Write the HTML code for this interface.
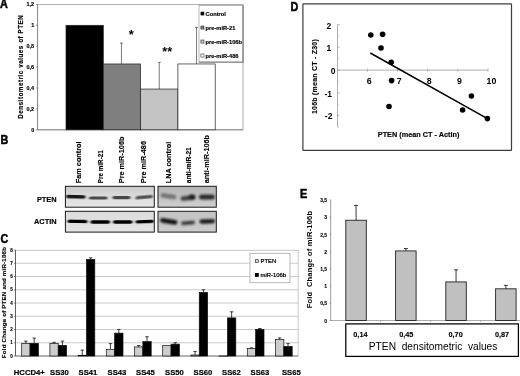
<!DOCTYPE html>
<html><head><meta charset="utf-8"><title>Figure</title>
<style>
html,body{margin:0;padding:0;background:#fff;}
body{width:520px;height:376px;overflow:hidden;font-family:"Liberation Sans",sans-serif;}
svg{display:block;filter:blur(0.35px);}
svg text{font-family:"Liberation Sans",sans-serif;}
</style></head><body>
<svg width="520" height="376" viewBox="0 0 520 376">
<rect x="0" y="0" width="520" height="376" fill="#ffffff"/>
<text transform="translate(0.1 8.3) scale(1 1.1)" font-size="10.8" font-weight="bold" fill="#000" stroke="#000" stroke-width="0.45">A</text>
<rect x="37.6" y="4.4" width="205.4" height="125.4" fill="#fff" stroke="#9a9a9a" stroke-width="0.8" />
<line x1="37.6" y1="4.4" x2="37.6" y2="129.8" stroke="#8c8c8c" stroke-width="1.0" />
<line x1="37.6" y1="129.8" x2="243" y2="129.8" stroke="#8c8c8c" stroke-width="1.0" />
<line x1="36.0" y1="4.40000000000002" x2="37.6" y2="4.40000000000002" stroke="#666" stroke-width="0.7" />
<text x="34.2" y="6.40000000000002" font-size="5.5" font-weight="bold" text-anchor="end" fill="#000" stroke="#000" stroke-width="0.15">1,2</text>
<line x1="36.0" y1="25.30000000000001" x2="37.6" y2="25.30000000000001" stroke="#666" stroke-width="0.7" />
<text x="34.2" y="27.30000000000001" font-size="5.5" font-weight="bold" text-anchor="end" fill="#000" stroke="#000" stroke-width="0.15">1</text>
<line x1="36.0" y1="46.2" x2="37.6" y2="46.2" stroke="#666" stroke-width="0.7" />
<text x="34.2" y="48.2" font-size="5.5" font-weight="bold" text-anchor="end" fill="#000" stroke="#000" stroke-width="0.15">0,8</text>
<line x1="36.0" y1="67.10000000000002" x2="37.6" y2="67.10000000000002" stroke="#666" stroke-width="0.7" />
<text x="34.2" y="69.10000000000002" font-size="5.5" font-weight="bold" text-anchor="end" fill="#000" stroke="#000" stroke-width="0.15">0,6</text>
<line x1="36.0" y1="88.0" x2="37.6" y2="88.0" stroke="#666" stroke-width="0.7" />
<text x="34.2" y="90.0" font-size="5.5" font-weight="bold" text-anchor="end" fill="#000" stroke="#000" stroke-width="0.15">0,4</text>
<line x1="36.0" y1="108.9" x2="37.6" y2="108.9" stroke="#666" stroke-width="0.7" />
<text x="34.2" y="110.9" font-size="5.5" font-weight="bold" text-anchor="end" fill="#000" stroke="#000" stroke-width="0.15">0,2</text>
<line x1="36.0" y1="129.8" x2="37.6" y2="129.8" stroke="#666" stroke-width="0.7" />
<text x="34.2" y="131.8" font-size="5.5" font-weight="bold" text-anchor="end" fill="#000" stroke="#000" stroke-width="0.15">0</text>
<text x="23.4" y="66.8" font-size="6.3" font-weight="bold" text-anchor="middle" fill="#000" transform="rotate(-90 23.4 66.8)" letter-spacing="0.52" stroke="#000" stroke-width="0.15">Densitometric values of PTEN</text>
<line x1="121.44999999999999" y1="43.06500000000001" x2="121.44999999999999" y2="63.96500000000002" stroke="#444" stroke-width="0.7" />
<line x1="119.94999999999999" y1="43.06500000000001" x2="122.94999999999999" y2="43.06500000000001" stroke="#444" stroke-width="0.7" />
<line x1="159.25" y1="62.39750000000001" x2="159.25" y2="89.04500000000002" stroke="#444" stroke-width="0.7" />
<line x1="157.75" y1="62.39750000000001" x2="160.75" y2="62.39750000000001" stroke="#444" stroke-width="0.7" />
<line x1="196.55" y1="27.390000000000015" x2="196.55" y2="63.96500000000002" stroke="#444" stroke-width="0.7" />
<line x1="195.05" y1="27.390000000000015" x2="198.05" y2="27.390000000000015" stroke="#444" stroke-width="0.7" />
<rect x="66" y="25.30000000000001" width="37.3" height="104.5" fill="#000" stroke="#222" stroke-width="0.7" />
<rect x="103.3" y="63.96500000000002" width="37.3" height="65.835" fill="#7f7f7f" stroke="#222" stroke-width="0.7" />
<rect x="140.6" y="89.04500000000002" width="37.3" height="40.755" fill="#c3c3c3" stroke="#222" stroke-width="0.7" />
<rect x="177.9" y="63.96500000000002" width="37.3" height="65.835" fill="#fff" stroke="#222" stroke-width="0.7" />
<text x="131.4" y="39.1" font-size="13" font-weight="bold" text-anchor="middle" fill="#000" >*</text>
<text x="167.2" y="55.5" font-size="12.5" font-weight="bold" text-anchor="middle" fill="#000" >**</text>
<rect x="199" y="5.4" width="44" height="56.8" fill="#fff" stroke="#a8a8a8" stroke-width="0.8" />
<line x1="243" y1="5.4" x2="243" y2="62.6" stroke="#8a8a8a" stroke-width="1.4" />
<line x1="199" y1="62.2" x2="243.6" y2="62.2" stroke="#8a8a8a" stroke-width="1.2" />
<rect x="200.9" y="12.0" width="3.1" height="3.1" fill="#000" stroke="#222" stroke-width="0.55" />
<text x="205.6" y="15.649999999999999" font-size="5.7" font-weight="bold" text-anchor="start" fill="#000" stroke="#000" stroke-width="0.16">Control</text>
<rect x="200.9" y="26.0" width="3.1" height="3.1" fill="#7f7f7f" stroke="#222" stroke-width="0.55" />
<text x="205.6" y="29.65" font-size="5.7" font-weight="bold" text-anchor="start" fill="#000" stroke="#000" stroke-width="0.16">pre-miR-21</text>
<rect x="200.9" y="40.0" width="3.1" height="3.1" fill="#c3c3c3" stroke="#222" stroke-width="0.55" />
<text x="205.6" y="43.650000000000006" font-size="5.7" font-weight="bold" text-anchor="start" fill="#000" stroke="#000" stroke-width="0.16">pre-miR-106b</text>
<rect x="200.9" y="54.0" width="3.1" height="3.1" fill="#fff" stroke="#222" stroke-width="0.55" />
<text x="205.6" y="57.650000000000006" font-size="5.7" font-weight="bold" text-anchor="start" fill="#000" stroke="#000" stroke-width="0.16">pre-miR-486</text>
<text transform="translate(0.4 143.6) scale(1 1.1)" font-size="10.8" font-weight="bold" fill="#000" stroke="#000" stroke-width="0.45">B</text>
<text x="80.8" y="183.2" font-size="7.3" font-weight="bold" text-anchor="start" fill="#000" transform="rotate(-90 80.8 183.2)" stroke="#000" stroke-width="0.15">Fam control</text>
<text x="102.9" y="183.2" font-size="7.3" font-weight="bold" text-anchor="start" fill="#000" transform="rotate(-90 102.9 183.2)" stroke="#000" stroke-width="0.15" textLength="33.0" lengthAdjust="spacingAndGlyphs">Pre miR-21</text>
<text x="123.9" y="183.2" font-size="7.3" font-weight="bold" text-anchor="start" fill="#000" transform="rotate(-90 123.9 183.2)" stroke="#000" stroke-width="0.15">Pre miR-106b</text>
<text x="146" y="183.2" font-size="7.3" font-weight="bold" text-anchor="start" fill="#000" transform="rotate(-90 146 183.2)" stroke="#000" stroke-width="0.15">Pre miR-486</text>
<text x="171" y="183.2" font-size="7.3" font-weight="bold" text-anchor="start" fill="#000" transform="rotate(-90 171 183.2)" stroke="#000" stroke-width="0.15">LNA control</text>
<text x="190.9" y="183.2" font-size="7.3" font-weight="bold" text-anchor="start" fill="#000" transform="rotate(-90 190.9 183.2)" stroke="#000" stroke-width="0.15" textLength="36.0" lengthAdjust="spacingAndGlyphs">anti-miR-21</text>
<text x="209" y="183.2" font-size="7.3" font-weight="bold" text-anchor="start" fill="#000" transform="rotate(-90 209 183.2)" stroke="#000" stroke-width="0.15">anti-miR-106b</text>
<text x="56.6" y="201.8" font-size="7.4" font-weight="bold" text-anchor="end" fill="#000" stroke="#000" stroke-width="0.15">PTEN</text>
<text x="56.6" y="224.0" font-size="7.4" font-weight="bold" text-anchor="end" fill="#000" stroke="#000" stroke-width="0.15">ACTIN</text>
<defs><filter id="bl" x="-20%" y="-100%" width="140%" height="300%"><feGaussianBlur stdDeviation="1.0 0.75"/></filter><filter id="bl2" x="-20%" y="-100%" width="140%" height="300%"><feGaussianBlur stdDeviation="1.3 1.1"/></filter><linearGradient id="gP1" x1="0" y1="0" x2="0" y2="1"><stop offset="0" stop-color="#c9c9c9"/><stop offset="0.45" stop-color="#dadada"/><stop offset="1" stop-color="#e6e6e6"/></linearGradient><linearGradient id="gP2" x1="0" y1="0" x2="0" y2="1"><stop offset="0" stop-color="#b4b4b4"/><stop offset="0.5" stop-color="#c2c2c2"/><stop offset="1" stop-color="#cfcfcf"/></linearGradient><linearGradient id="gA1" x1="0" y1="0" x2="0" y2="1"><stop offset="0" stop-color="#dcdcdc"/><stop offset="1" stop-color="#e4e4e4"/></linearGradient><linearGradient id="gA2" x1="0" y1="0" x2="0" y2="1"><stop offset="0" stop-color="#c2c2c2"/><stop offset="1" stop-color="#cccccc"/></linearGradient><clipPath id="cP1"><rect x="65.4" y="186.3" width="88.9" height="20.9"/></clipPath><clipPath id="cP2"><rect x="158" y="186.3" width="58.3" height="20.9"/></clipPath><clipPath id="cA1"><rect x="65.4" y="211.3" width="88.9" height="20.8"/></clipPath><clipPath id="cA2"><rect x="158" y="211.3" width="58.3" height="20.8"/></clipPath></defs>
<rect x="65.4" y="186.3" width="88.9" height="20.9" fill="url(#gP1)" stroke="none" stroke-width="1" />
<rect x="158" y="186.3" width="58.3" height="20.9" fill="url(#gP2)" stroke="none" stroke-width="1" />
<rect x="65.4" y="211.3" width="88.9" height="20.8" fill="url(#gA1)" stroke="none" stroke-width="1" />
<rect x="158" y="211.3" width="58.3" height="20.8" fill="url(#gA2)" stroke="none" stroke-width="1" />
<g clip-path="url(#cP1)"><rect x="66.0" y="195.10000000000002" width="19.5" height="3.4" rx="1.7" fill="#111" opacity="0.95" filter="url(#bl)" transform="rotate(1.5 75.75 196.8)"/></g>
<g clip-path="url(#cP1)"><rect x="89.0" y="196.4" width="18.5" height="3.2" rx="1.6" fill="#222" opacity="0.78" filter="url(#bl)" transform="rotate(0 98.25 198.0)"/></g>
<g clip-path="url(#cP1)"><rect x="112.5" y="196.0" width="18.0" height="3.2" rx="1.6" fill="#222" opacity="0.8" filter="url(#bl)" transform="rotate(0 121.5 197.6)"/></g>
<g clip-path="url(#cP1)"><rect x="135.5" y="195.6" width="17.30000000000001" height="3.2" rx="1.6" fill="#222" opacity="0.75" filter="url(#bl)" transform="rotate(-5 144.15 197.2)"/></g>
<g clip-path="url(#cP2)"><rect x="160.5" y="193.89999999999998" width="16.0" height="4.6" rx="2.3" fill="#333" opacity="0.55" filter="url(#bl2)" transform="rotate(8 168.5 196.2)"/></g>
<g clip-path="url(#cP2)"><rect x="180.5" y="195.7" width="15.0" height="4.6" rx="2.3" fill="#1a1a1a" opacity="0.8" filter="url(#bl2)" transform="rotate(-6 188.0 198.0)"/></g>
<g clip-path="url(#cP2)"><rect x="189.0" y="194.60000000000002" width="6.0" height="4.4" rx="2.2" fill="#111" opacity="0.75" filter="url(#bl2)" transform="rotate(0 192.0 196.8)"/></g>
<g clip-path="url(#cP2)"><rect x="199.0" y="194.5" width="15.800000000000011" height="5.0" rx="2.5" fill="#111" opacity="0.85" filter="url(#bl2)" transform="rotate(0 206.9 197.0)"/></g>
<g clip-path="url(#cA1)"><rect x="67.5" y="219.75" width="20.0" height="3.3" rx="1.65" fill="#000" opacity="1" filter="url(#bl)" transform="rotate(1 77.5 221.4)"/></g>
<g clip-path="url(#cA1)"><rect x="90.5" y="220.35" width="19.5" height="3.3" rx="1.65" fill="#000" opacity="1" filter="url(#bl)" transform="rotate(0 100.25 222.0)"/></g>
<g clip-path="url(#cA1)"><rect x="113.0" y="220.35" width="19.5" height="3.3" rx="1.65" fill="#000" opacity="1" filter="url(#bl)" transform="rotate(0 122.75 222.0)"/></g>
<g clip-path="url(#cA1)"><rect x="135.5" y="219.95" width="18.5" height="3.3" rx="1.65" fill="#000" opacity="1" filter="url(#bl)" transform="rotate(-2 144.75 221.6)"/></g>
<g clip-path="url(#cA2)"><rect x="160.0" y="218.9" width="17.5" height="4.8" rx="2.4" fill="#0a0a0a" opacity="0.97" filter="url(#bl2)" transform="rotate(9 168.75 221.3)"/></g>
<g clip-path="url(#cA2)"><rect x="181.0" y="220.9" width="14.0" height="3.8" rx="1.9" fill="#1a1a1a" opacity="0.82" filter="url(#bl2)" transform="rotate(-5 188.0 222.8)"/></g>
<g clip-path="url(#cA2)"><rect x="199.5" y="219.20000000000002" width="15.5" height="4.2" rx="2.1" fill="#0a0a0a" opacity="0.95" filter="url(#bl2)" transform="rotate(-2 207.25 221.3)"/></g>
<rect x="65.4" y="186.3" width="88.9" height="20.9" fill="none" stroke="#1a1a1a" stroke-width="1" />
<rect x="158" y="186.3" width="58.3" height="20.9" fill="none" stroke="#1a1a1a" stroke-width="1" />
<rect x="65.4" y="211.3" width="88.9" height="20.8" fill="none" stroke="#1a1a1a" stroke-width="1" />
<rect x="158" y="211.3" width="58.3" height="20.8" fill="none" stroke="#1a1a1a" stroke-width="1" />
<text transform="translate(0.4 242.9) scale(1 1.1)" font-size="10.8" font-weight="bold" fill="#000" stroke="#000" stroke-width="0.45">C</text>
<rect x="15.5" y="250.25" width="282.6" height="105.75" fill="#fff" stroke="#b0b0b0" stroke-width="0.7" />
<line x1="14.0" y1="356.0" x2="15.5" y2="356.0" stroke="#333" stroke-width="0.6" />
<text x="12.7" y="357.6" font-size="4.6" font-weight="bold" text-anchor="end" fill="#000" stroke="#000" stroke-width="0.12">0</text>
<line x1="15.5" y1="342.75" x2="298.1" y2="342.75" stroke="#b4b4b4" stroke-width="0.7" />
<line x1="14.0" y1="342.75" x2="15.5" y2="342.75" stroke="#333" stroke-width="0.6" />
<text x="12.7" y="344.35" font-size="4.6" font-weight="bold" text-anchor="end" fill="#000" stroke="#000" stroke-width="0.12">1</text>
<line x1="15.5" y1="329.5" x2="298.1" y2="329.5" stroke="#b4b4b4" stroke-width="0.7" />
<line x1="14.0" y1="329.5" x2="15.5" y2="329.5" stroke="#333" stroke-width="0.6" />
<text x="12.7" y="331.1" font-size="4.6" font-weight="bold" text-anchor="end" fill="#000" stroke="#000" stroke-width="0.12">2</text>
<line x1="15.5" y1="316.25" x2="298.1" y2="316.25" stroke="#b4b4b4" stroke-width="0.7" />
<line x1="14.0" y1="316.25" x2="15.5" y2="316.25" stroke="#333" stroke-width="0.6" />
<text x="12.7" y="317.85" font-size="4.6" font-weight="bold" text-anchor="end" fill="#000" stroke="#000" stroke-width="0.12">3</text>
<line x1="15.5" y1="303.0" x2="298.1" y2="303.0" stroke="#b4b4b4" stroke-width="0.7" />
<line x1="14.0" y1="303.0" x2="15.5" y2="303.0" stroke="#333" stroke-width="0.6" />
<text x="12.7" y="304.6" font-size="4.6" font-weight="bold" text-anchor="end" fill="#000" stroke="#000" stroke-width="0.12">4</text>
<line x1="15.5" y1="289.75" x2="298.1" y2="289.75" stroke="#b4b4b4" stroke-width="0.7" />
<line x1="14.0" y1="289.75" x2="15.5" y2="289.75" stroke="#333" stroke-width="0.6" />
<text x="12.7" y="291.35" font-size="4.6" font-weight="bold" text-anchor="end" fill="#000" stroke="#000" stroke-width="0.12">5</text>
<line x1="15.5" y1="276.5" x2="298.1" y2="276.5" stroke="#b4b4b4" stroke-width="0.7" />
<line x1="14.0" y1="276.5" x2="15.5" y2="276.5" stroke="#333" stroke-width="0.6" />
<text x="12.7" y="278.1" font-size="4.6" font-weight="bold" text-anchor="end" fill="#000" stroke="#000" stroke-width="0.12">6</text>
<line x1="15.5" y1="263.25" x2="298.1" y2="263.25" stroke="#b4b4b4" stroke-width="0.7" />
<line x1="14.0" y1="263.25" x2="15.5" y2="263.25" stroke="#333" stroke-width="0.6" />
<text x="12.7" y="264.85" font-size="4.6" font-weight="bold" text-anchor="end" fill="#000" stroke="#000" stroke-width="0.12">7</text>
<line x1="14.0" y1="250.0" x2="15.5" y2="250.0" stroke="#333" stroke-width="0.6" />
<text x="12.7" y="251.6" font-size="4.6" font-weight="bold" text-anchor="end" fill="#000" stroke="#000" stroke-width="0.12">8</text>
<line x1="15.5" y1="250.25" x2="15.5" y2="356.0" stroke="#333" stroke-width="0.7" />
<line x1="15.5" y1="356.0" x2="298.1" y2="356.0" stroke="#555" stroke-width="0.7" />
<text x="5.7" y="302.5" font-size="6.2" font-weight="bold" text-anchor="middle" fill="#000" transform="rotate(-90 5.7 302.5)" stroke="#000" stroke-width="0.15" letter-spacing="0.18">Fold Change of PTEN and miR-106b</text>
<line x1="25.875" y1="341.0975" x2="25.875" y2="343.35" stroke="#111" stroke-width="0.8" />
<line x1="24.175" y1="341.0975" x2="27.575" y2="341.0975" stroke="#111" stroke-width="0.8" />
<rect x="21.7" y="343.35" width="8.35" height="12.65" fill="#cdcdcd" stroke="#111" stroke-width="0.7" />
<line x1="34.224999999999994" y1="338.05" x2="34.224999999999994" y2="343.35" stroke="#111" stroke-width="0.8" />
<line x1="32.52499999999999" y1="338.05" x2="35.925" y2="338.05" stroke="#111" stroke-width="0.8" />
<rect x="30.049999999999997" y="343.35" width="8.35" height="12.65" fill="#000" stroke="#111" stroke-width="0.7" />
<text x="29.3" y="374.9" font-size="7.7" font-weight="bold" text-anchor="middle" fill="#000" stroke="#000" stroke-width="0.18">HCCD4+</text>
<line x1="54.075" y1="342.29" x2="54.075" y2="343.615" stroke="#111" stroke-width="0.8" />
<line x1="52.375" y1="342.29" x2="55.775000000000006" y2="342.29" stroke="#111" stroke-width="0.8" />
<rect x="49.900000000000006" y="343.615" width="8.35" height="12.385" fill="#cdcdcd" stroke="#111" stroke-width="0.7" />
<line x1="62.425000000000004" y1="341.0975" x2="62.425000000000004" y2="345.33750000000003" stroke="#111" stroke-width="0.8" />
<line x1="60.725" y1="341.0975" x2="64.125" y2="341.0975" stroke="#111" stroke-width="0.8" />
<rect x="58.25000000000001" y="345.33750000000003" width="8.35" height="10.6625" fill="#000" stroke="#111" stroke-width="0.7" />
<text x="59.5" y="374.9" font-size="7.7" font-weight="bold" text-anchor="middle" fill="#000" stroke="#000" stroke-width="0.18">SS30</text>
<line x1="82.275" y1="350.1075" x2="82.275" y2="355.27500000000003" stroke="#111" stroke-width="0.8" />
<line x1="80.575" y1="350.1075" x2="83.97500000000001" y2="350.1075" stroke="#111" stroke-width="0.8" />
<rect x="78.10000000000001" y="355.27500000000003" width="8.35" height="0.7250000000000002" fill="#cdcdcd" stroke="#111" stroke-width="0.7" />
<line x1="90.625" y1="257.88750000000005" x2="90.625" y2="259.4775" stroke="#111" stroke-width="0.8" />
<line x1="88.925" y1="257.88750000000005" x2="92.325" y2="257.88750000000005" stroke="#111" stroke-width="0.8" />
<rect x="86.45" y="259.4775" width="8.35" height="96.52250000000001" fill="#000" stroke="#111" stroke-width="0.7" />
<text x="88" y="374.9" font-size="7.7" font-weight="bold" text-anchor="middle" fill="#000" stroke="#000" stroke-width="0.18">SS41</text>
<line x1="110.475" y1="343.615" x2="110.475" y2="349.3125" stroke="#111" stroke-width="0.8" />
<line x1="108.77499999999999" y1="343.615" x2="112.175" y2="343.615" stroke="#111" stroke-width="0.8" />
<rect x="106.3" y="349.3125" width="8.35" height="6.687500000000001" fill="#cdcdcd" stroke="#111" stroke-width="0.7" />
<line x1="118.82499999999999" y1="329.4375" x2="118.82499999999999" y2="333.14750000000004" stroke="#111" stroke-width="0.8" />
<line x1="117.12499999999999" y1="329.4375" x2="120.52499999999999" y2="329.4375" stroke="#111" stroke-width="0.8" />
<rect x="114.64999999999999" y="333.14750000000004" width="8.35" height="22.8525" fill="#000" stroke="#111" stroke-width="0.7" />
<text x="117" y="374.9" font-size="7.7" font-weight="bold" text-anchor="middle" fill="#000" stroke="#000" stroke-width="0.18">SS43</text>
<line x1="138.675" y1="345.6025" x2="138.675" y2="346.9275" stroke="#111" stroke-width="0.8" />
<line x1="136.97500000000002" y1="345.6025" x2="140.375" y2="345.6025" stroke="#111" stroke-width="0.8" />
<rect x="134.5" y="346.9275" width="8.35" height="9.0725" fill="#cdcdcd" stroke="#111" stroke-width="0.7" />
<line x1="147.025" y1="336.725" x2="147.025" y2="341.6275" stroke="#111" stroke-width="0.8" />
<line x1="145.32500000000002" y1="336.725" x2="148.725" y2="336.725" stroke="#111" stroke-width="0.8" />
<rect x="142.85" y="341.6275" width="8.35" height="14.372499999999999" fill="#000" stroke="#111" stroke-width="0.7" />
<text x="145.5" y="374.9" font-size="7.7" font-weight="bold" text-anchor="middle" fill="#000" stroke="#000" stroke-width="0.18">SS45</text>
<rect x="162.7" y="345.6025" width="8.35" height="10.397499999999999" fill="#cdcdcd" stroke="#111" stroke-width="0.7" />
<line x1="175.225" y1="342.6875" x2="175.225" y2="344.14500000000004" stroke="#111" stroke-width="0.8" />
<line x1="173.525" y1="342.6875" x2="176.92499999999998" y2="342.6875" stroke="#111" stroke-width="0.8" />
<rect x="171.04999999999998" y="344.14500000000004" width="8.35" height="11.855" fill="#000" stroke="#111" stroke-width="0.7" />
<text x="174.5" y="374.9" font-size="7.7" font-weight="bold" text-anchor="middle" fill="#000" stroke="#000" stroke-width="0.18">SS50</text>
<line x1="195.075" y1="351.565" x2="195.075" y2="355.01000000000005" stroke="#111" stroke-width="0.8" />
<line x1="193.375" y1="351.565" x2="196.77499999999998" y2="351.565" stroke="#111" stroke-width="0.8" />
<rect x="190.89999999999998" y="355.01000000000005" width="8.35" height="0.9899999999999999" fill="#cdcdcd" stroke="#111" stroke-width="0.7" />
<line x1="203.42499999999998" y1="289.82000000000005" x2="203.42499999999998" y2="292.33750000000003" stroke="#111" stroke-width="0.8" />
<line x1="201.725" y1="289.82000000000005" x2="205.12499999999997" y2="289.82000000000005" stroke="#111" stroke-width="0.8" />
<rect x="199.24999999999997" y="292.33750000000003" width="8.35" height="63.66249999999999" fill="#000" stroke="#111" stroke-width="0.7" />
<text x="203" y="374.9" font-size="7.7" font-weight="bold" text-anchor="middle" fill="#000" stroke="#000" stroke-width="0.18">SS60</text>
<rect x="219.1" y="355.9375" width="8.35" height="0.3" fill="#cdcdcd" stroke="#111" stroke-width="0.7" />
<line x1="231.625" y1="311.81500000000005" x2="231.625" y2="317.91" stroke="#111" stroke-width="0.8" />
<line x1="229.925" y1="311.81500000000005" x2="233.325" y2="311.81500000000005" stroke="#111" stroke-width="0.8" />
<rect x="227.45" y="317.91" width="8.35" height="38.089999999999996" fill="#000" stroke="#111" stroke-width="0.7" />
<text x="231.5" y="374.9" font-size="7.7" font-weight="bold" text-anchor="middle" fill="#000" stroke="#000" stroke-width="0.18">SS62</text>
<line x1="251.475" y1="347.855" x2="251.475" y2="348.65000000000003" stroke="#111" stroke-width="0.8" />
<line x1="249.775" y1="347.855" x2="253.17499999999998" y2="347.855" stroke="#111" stroke-width="0.8" />
<rect x="247.29999999999998" y="348.65000000000003" width="8.35" height="7.35" fill="#cdcdcd" stroke="#111" stroke-width="0.7" />
<line x1="259.825" y1="328.51000000000005" x2="259.825" y2="329.4375" stroke="#111" stroke-width="0.8" />
<line x1="258.125" y1="328.51000000000005" x2="261.525" y2="328.51000000000005" stroke="#111" stroke-width="0.8" />
<rect x="255.64999999999998" y="329.4375" width="8.35" height="26.562499999999996" fill="#000" stroke="#111" stroke-width="0.7" />
<text x="260" y="374.9" font-size="7.7" font-weight="bold" text-anchor="middle" fill="#000" stroke="#000" stroke-width="0.18">SS63</text>
<line x1="279.67499999999995" y1="337.9175" x2="279.67499999999995" y2="339.64000000000004" stroke="#111" stroke-width="0.8" />
<line x1="277.97499999999997" y1="337.9175" x2="281.37499999999994" y2="337.9175" stroke="#111" stroke-width="0.8" />
<rect x="275.49999999999994" y="339.64000000000004" width="8.35" height="16.36" fill="#cdcdcd" stroke="#111" stroke-width="0.7" />
<line x1="288.025" y1="343.615" x2="288.025" y2="346.39750000000004" stroke="#111" stroke-width="0.8" />
<line x1="286.325" y1="343.615" x2="289.72499999999997" y2="343.615" stroke="#111" stroke-width="0.8" />
<rect x="283.84999999999997" y="346.39750000000004" width="8.35" height="9.602500000000001" fill="#000" stroke="#111" stroke-width="0.7" />
<text x="291.3" y="374.9" font-size="7.7" font-weight="bold" text-anchor="middle" fill="#000" stroke="#000" stroke-width="0.18">SS65</text>
<rect x="250" y="253.3" width="40" height="29.4" fill="#fff" stroke="#a8a8a8" stroke-width="0.8" />
<rect x="255.5" y="259.7" width="2.8" height="2.8" fill="#d8d8d8" stroke="#111" stroke-width="0.6" />
<text x="260.6" y="263.2" font-size="5.9" font-weight="normal" text-anchor="start" fill="#000" stroke="#000" stroke-width="0.24">PTEN</text>
<rect x="254.9" y="273.0" width="3.9" height="3.9" fill="#000" stroke="none" stroke-width="1" />
<text x="260.6" y="277.1" font-size="5.9" font-weight="normal" text-anchor="start" fill="#000" stroke="#000" stroke-width="0.24">miR-106b</text>
<text transform="translate(290.4 10.6) scale(1 1.1)" font-size="10.8" font-weight="bold" fill="#000" stroke="#000" stroke-width="0.45">D</text>
<rect x="302.9" y="3.9" width="208.6" height="146.4" fill="#fff" stroke="#3c3c3c" stroke-width="1.2" rx="0.6"/>
<line x1="337.5" y1="24.499999999999993" x2="337.5" y2="127.1" stroke="#9a9a9a" stroke-width="0.8" />
<line x1="337.5" y1="70.1" x2="488.0" y2="70.1" stroke="#9a9a9a" stroke-width="0.8" />
<line x1="337.5" y1="24.499999999999993" x2="339.5" y2="24.499999999999993" stroke="#9a9a9a" stroke-width="0.7" />
<text x="328.8" y="29.35" font-size="8.5" font-weight="bold" text-anchor="middle" fill="#000" >2</text>
<line x1="337.5" y1="47.3" x2="339.5" y2="47.3" stroke="#9a9a9a" stroke-width="0.7" />
<text x="328.8" y="50.949999999999996" font-size="8.5" font-weight="bold" text-anchor="middle" fill="#000" >1</text>
<line x1="337.5" y1="70.1" x2="339.5" y2="70.1" stroke="#9a9a9a" stroke-width="0.7" />
<text x="333.2" y="73.64999999999999" font-size="8.5" font-weight="bold" text-anchor="middle" fill="#000" >0</text>
<line x1="337.5" y1="92.89999999999999" x2="339.5" y2="92.89999999999999" stroke="#9a9a9a" stroke-width="0.7" />
<text x="328.2" y="96.64999999999999" font-size="8.5" font-weight="bold" text-anchor="middle" fill="#000" >-1</text>
<line x1="337.5" y1="115.69999999999999" x2="339.5" y2="115.69999999999999" stroke="#9a9a9a" stroke-width="0.7" />
<text x="328.6" y="118.95" font-size="8.5" font-weight="bold" text-anchor="middle" fill="#000" >-2</text>
<line x1="337.5" y1="127.1" x2="339.0" y2="127.1" stroke="#b0b0b0" stroke-width="0.6" />
<line x1="337.5" y1="104.3" x2="339.0" y2="104.3" stroke="#b0b0b0" stroke-width="0.6" />
<line x1="337.5" y1="81.5" x2="339.0" y2="81.5" stroke="#b0b0b0" stroke-width="0.6" />
<line x1="337.5" y1="58.699999999999996" x2="339.0" y2="58.699999999999996" stroke="#b0b0b0" stroke-width="0.6" />
<line x1="337.5" y1="35.89999999999999" x2="339.0" y2="35.89999999999999" stroke="#b0b0b0" stroke-width="0.6" />
<line x1="367.6" y1="68.6" x2="367.6" y2="71.69999999999999" stroke="#9a9a9a" stroke-width="0.7" />
<text x="369.1" y="84.2" font-size="8.8" font-weight="bold" text-anchor="middle" fill="#000" >6</text>
<line x1="397.7" y1="68.6" x2="397.7" y2="71.69999999999999" stroke="#9a9a9a" stroke-width="0.7" />
<text x="399.2" y="84.2" font-size="8.8" font-weight="bold" text-anchor="middle" fill="#000" >7</text>
<line x1="427.8" y1="68.6" x2="427.8" y2="71.69999999999999" stroke="#9a9a9a" stroke-width="0.7" />
<text x="429.3" y="84.2" font-size="8.8" font-weight="bold" text-anchor="middle" fill="#000" >8</text>
<line x1="457.9" y1="68.6" x2="457.9" y2="71.69999999999999" stroke="#9a9a9a" stroke-width="0.7" />
<text x="459.4" y="84.2" font-size="8.8" font-weight="bold" text-anchor="middle" fill="#000" >9</text>
<line x1="488.0" y1="68.6" x2="488.0" y2="71.69999999999999" stroke="#9a9a9a" stroke-width="0.7" />
<text x="491.4" y="84.2" font-size="8.8" font-weight="bold" text-anchor="middle" fill="#000" >10</text>
<line x1="370.3" y1="53" x2="487.4" y2="118.6" stroke="#000" stroke-width="1.5" />
<circle cx="370.8" cy="35.0" r="2.8" fill="#000"/>
<circle cx="382.6" cy="34.3" r="2.8" fill="#000"/>
<circle cx="381" cy="48" r="2.8" fill="#000"/>
<circle cx="391.2" cy="62.3" r="2.8" fill="#000"/>
<circle cx="391.6" cy="80.6" r="2.8" fill="#000"/>
<circle cx="389" cy="106.5" r="2.8" fill="#000"/>
<circle cx="462.6" cy="110" r="2.8" fill="#000"/>
<circle cx="471.4" cy="96" r="2.8" fill="#000"/>
<circle cx="487.4" cy="118.6" r="2.8" fill="#000"/>
<text x="418.6" y="136.9" font-size="7.3" font-weight="bold" text-anchor="middle" fill="#000" stroke="#000" stroke-width="0.15">PTEN (mean CT - Actin)</text>
<text x="316.8" y="76.5" font-size="7.0" font-weight="bold" text-anchor="middle" fill="#000" transform="rotate(-90 316.8 76.5)" letter-spacing="0.23" stroke="#000" stroke-width="0.12">106b (mean CT - Z30)</text>
<text transform="translate(299.9 197.5) scale(1 1.1)" font-size="10.8" font-weight="bold" fill="#000" stroke="#000" stroke-width="0.45">E</text>
<line x1="330.7" y1="199.92499999999998" x2="330.7" y2="320.5" stroke="#9c9c9c" stroke-width="1.0" />
<line x1="330.5" y1="320.5" x2="520" y2="320.5" stroke="#888" stroke-width="0.7" />
<line x1="329.5" y1="199.92499999999998" x2="331.0" y2="199.92499999999998" stroke="#8a8a8a" stroke-width="0.7" />
<text x="327.1" y="202.12499999999997" font-size="5.0" font-weight="bold" text-anchor="end" fill="#000" stroke="#000" stroke-width="0.12">3,5</text>
<line x1="329.5" y1="217.14999999999998" x2="331.0" y2="217.14999999999998" stroke="#8a8a8a" stroke-width="0.7" />
<text x="327.1" y="219.34999999999997" font-size="5.0" font-weight="bold" text-anchor="end" fill="#000" stroke="#000" stroke-width="0.12">3</text>
<line x1="329.5" y1="234.375" x2="331.0" y2="234.375" stroke="#8a8a8a" stroke-width="0.7" />
<text x="327.1" y="236.575" font-size="5.0" font-weight="bold" text-anchor="end" fill="#000" stroke="#000" stroke-width="0.12">2,5</text>
<line x1="329.5" y1="251.6" x2="331.0" y2="251.6" stroke="#8a8a8a" stroke-width="0.7" />
<text x="327.1" y="253.79999999999998" font-size="5.0" font-weight="bold" text-anchor="end" fill="#000" stroke="#000" stroke-width="0.12">2</text>
<line x1="329.5" y1="268.825" x2="331.0" y2="268.825" stroke="#8a8a8a" stroke-width="0.7" />
<text x="327.1" y="271.025" font-size="5.0" font-weight="bold" text-anchor="end" fill="#000" stroke="#000" stroke-width="0.12">1,5</text>
<line x1="329.5" y1="286.05" x2="331.0" y2="286.05" stroke="#8a8a8a" stroke-width="0.7" />
<text x="327.1" y="288.25" font-size="5.0" font-weight="bold" text-anchor="end" fill="#000" stroke="#000" stroke-width="0.12">1</text>
<line x1="329.5" y1="303.275" x2="331.0" y2="303.275" stroke="#8a8a8a" stroke-width="0.7" />
<text x="327.1" y="305.47499999999997" font-size="5.0" font-weight="bold" text-anchor="end" fill="#000" stroke="#000" stroke-width="0.12">0,5</text>
<line x1="329.5" y1="320.5" x2="331.0" y2="320.5" stroke="#8a8a8a" stroke-width="0.7" />
<text x="327.1" y="322.7" font-size="5.0" font-weight="bold" text-anchor="end" fill="#000" stroke="#000" stroke-width="0.12">0</text>
<line x1="380.5" y1="320.5" x2="380.5" y2="322.0" stroke="#888" stroke-width="0.6" />
<line x1="430.5" y1="320.5" x2="430.5" y2="322.0" stroke="#888" stroke-width="0.6" />
<line x1="480.5" y1="320.5" x2="480.5" y2="322.0" stroke="#888" stroke-width="0.6" />
<text x="312.3" y="259.5" font-size="7.55" font-weight="bold" text-anchor="middle" fill="#000" transform="rotate(-90 312.3 259.5)" xml:space="preserve" letter-spacing="0.19">Fold  Change of miR-106b</text>
<line x1="356.05" y1="205.437" x2="356.05" y2="220.2505" stroke="#222" stroke-width="0.9" />
<line x1="354.05" y1="205.437" x2="358.05" y2="205.437" stroke="#222" stroke-width="0.9" />
<rect x="345.8" y="220.2505" width="20.5" height="100.24950000000001" fill="#c0c0c0" stroke="#222" stroke-width="0.9" />
<line x1="405.85" y1="248.4995" x2="405.85" y2="250.911" stroke="#222" stroke-width="0.9" />
<line x1="403.85" y1="248.4995" x2="407.85" y2="248.4995" stroke="#222" stroke-width="0.9" />
<rect x="395.6" y="250.911" width="20.5" height="69.58900000000001" fill="#c0c0c0" stroke="#222" stroke-width="0.9" />
<line x1="456.05" y1="269.8585" x2="456.05" y2="281.916" stroke="#222" stroke-width="0.9" />
<line x1="454.05" y1="269.8585" x2="458.05" y2="269.8585" stroke="#222" stroke-width="0.9" />
<rect x="445.8" y="281.916" width="20.5" height="38.58400000000001" fill="#c0c0c0" stroke="#222" stroke-width="0.9" />
<line x1="505.85" y1="285.361" x2="505.85" y2="288.806" stroke="#222" stroke-width="0.9" />
<line x1="503.85" y1="285.361" x2="507.85" y2="285.361" stroke="#222" stroke-width="0.9" />
<rect x="495.6" y="288.806" width="20.5" height="31.694000000000003" fill="#c0c0c0" stroke="#222" stroke-width="0.9" />
<rect x="345.8" y="323.9" width="172.6" height="32.5" fill="#fff" stroke="#000" stroke-width="1.25" />
<text x="360.4" y="337.0" font-size="7.3" font-weight="bold" text-anchor="middle" fill="#000" stroke="#000" stroke-width="0.12">0,14</text>
<text x="406.3" y="337.0" font-size="7.3" font-weight="bold" text-anchor="middle" fill="#000" stroke="#000" stroke-width="0.12">0,45</text>
<text x="455.6" y="337.0" font-size="7.3" font-weight="bold" text-anchor="middle" fill="#000" stroke="#000" stroke-width="0.12">0,70</text>
<text x="502.0" y="337.0" font-size="7.3" font-weight="bold" text-anchor="middle" fill="#000" stroke="#000" stroke-width="0.12">0,87</text>
<text x="433.1" y="349.8" font-size="10.2" font-weight="normal" text-anchor="middle" fill="#000" xml:space="preserve">PTEN  densitometric  values</text>
</svg>
</body></html>
